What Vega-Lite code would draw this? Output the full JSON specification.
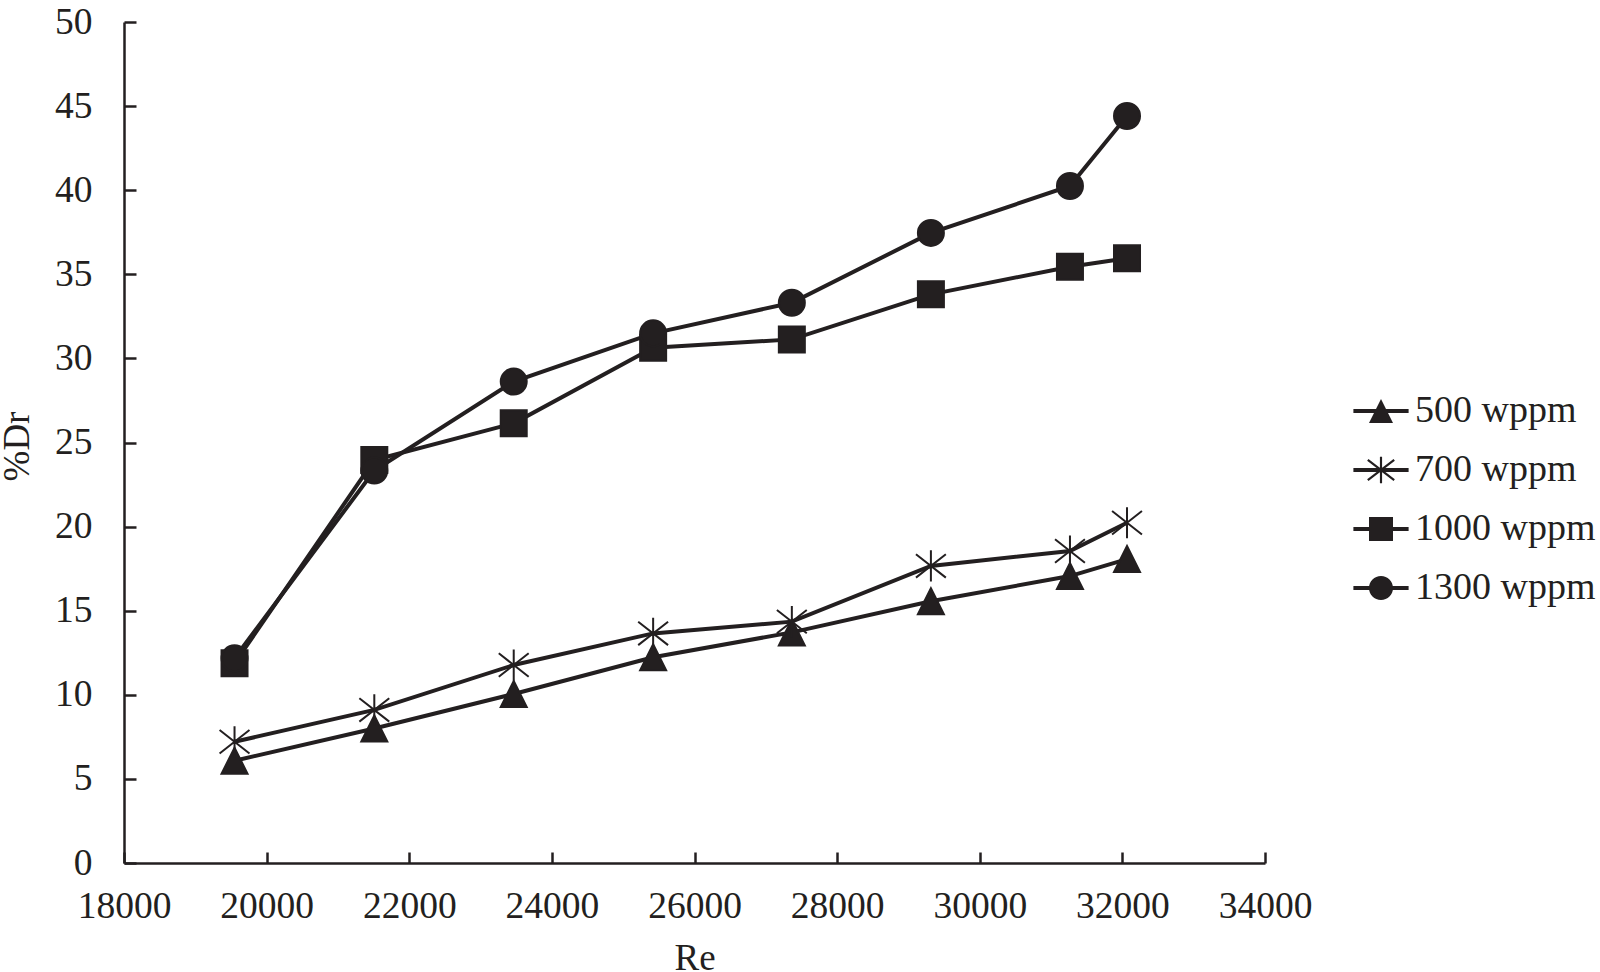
{
  "$schema": "https://vega.github.io/schema/vega-lite/v6.json",
  "autosize": {"type": "none"},
  "padding": {"left": 124, "top": 22, "right": 335, "bottom": 109},
  "width": 1141,
  "height": 841,
  "background": "white",
  "config": {
    "font": "Liberation Serif",
    "view": {"stroke": null},
    "axis": {
      "grid": false,
      "domainColor": "#231f20",
      "domainWidth": 2.5,
      "tickColor": "#231f20",
      "tickWidth": 2.5,
      "labelFont": "Liberation Serif",
      "labelFontSize": 37.5,
      "labelColor": "#231f20",
      "labelFlush": false,
      "labelOverlap": false,
      "titleFont": "Liberation Serif",
      "titleFontSize": 37,
      "titleFontWeight": "normal",
      "titleColor": "#231f20"
    }
  },
  "data": {
    "values": [
      {"Re": 19550, "Dr": 6.08, "series": "500 wppm"},
      {"Re": 21510, "Dr": 8.0, "series": "500 wppm"},
      {"Re": 23465, "Dr": 10.05, "series": "500 wppm"},
      {"Re": 25420, "Dr": 12.23, "series": "500 wppm"},
      {"Re": 27365, "Dr": 13.71, "series": "500 wppm"},
      {"Re": 29315, "Dr": 15.56, "series": "500 wppm"},
      {"Re": 31265, "Dr": 17.06, "series": "500 wppm"},
      {"Re": 32065, "Dr": 18.07, "series": "500 wppm"},
      {"Re": 19550, "Dr": 7.21, "series": "700 wppm"},
      {"Re": 21510, "Dr": 9.1, "series": "700 wppm"},
      {"Re": 23465, "Dr": 11.77, "series": "700 wppm"},
      {"Re": 25420, "Dr": 13.65, "series": "700 wppm"},
      {"Re": 27365, "Dr": 14.35, "series": "700 wppm"},
      {"Re": 29315, "Dr": 17.66, "series": "700 wppm"},
      {"Re": 31265, "Dr": 18.55, "series": "700 wppm"},
      {"Re": 32065, "Dr": 20.23, "series": "700 wppm"},
      {"Re": 19550, "Dr": 11.87, "series": "1000 wppm"},
      {"Re": 21510, "Dr": 23.96, "series": "1000 wppm"},
      {"Re": 23465, "Dr": 26.14, "series": "1000 wppm"},
      {"Re": 25420, "Dr": 30.64, "series": "1000 wppm"},
      {"Re": 27365, "Dr": 31.13, "series": "1000 wppm"},
      {"Re": 29315, "Dr": 33.81, "series": "1000 wppm"},
      {"Re": 31265, "Dr": 35.45, "series": "1000 wppm"},
      {"Re": 32065, "Dr": 35.95, "series": "1000 wppm"},
      {"Re": 19550, "Dr": 12.17, "series": "1300 wppm"},
      {"Re": 21510, "Dr": 23.33, "series": "1300 wppm"},
      {"Re": 23465, "Dr": 28.62, "series": "1300 wppm"},
      {"Re": 25420, "Dr": 31.49, "series": "1300 wppm"},
      {"Re": 27365, "Dr": 33.31, "series": "1300 wppm"},
      {"Re": 29315, "Dr": 37.46, "series": "1300 wppm"},
      {"Re": 31265, "Dr": 40.25, "series": "1300 wppm"},
      {"Re": 32065, "Dr": 44.41, "series": "1300 wppm"}
    ]
  },
  "encoding": {
    "x": {
      "field": "Re",
      "type": "quantitative",
      "scale": {"domain": [18000, 34000], "nice": false, "zero": false},
      "axis": {
        "title": "Re",
        "values": [18000, 20000, 22000, 24000, 26000, 28000, 30000, 32000, 34000],
        "format": "d",
        "tickSize": -11,
        "labelPadding": 35,
        "titleBaseline": "alphabetic",
        "titleY": 106
      }
    },
    "y": {
      "field": "Dr",
      "type": "quantitative",
      "scale": {"domain": [0, 50], "nice": false},
      "axis": {
        "title": "%Dr",
        "values": [0, 5, 10, 15, 20, 25, 30, 35, 40, 45, 50],
        "tickSize": -12,
        "labelPadding": 44,
        "titleBaseline": "alphabetic",
        "titleX": -96,
        "titleY": 424,
        "titleAlign": "center"
      }
    }
  },
  "layer": [
    {
      "mark": {"type": "line", "color": "#231f20", "strokeWidth": 4},
      "encoding": {"detail": {"field": "series", "type": "nominal"}}
    },
    {
      "mark": {"type": "point", "filled": true, "fill": "#231f20", "stroke": "#231f20", "strokeWidth": 2, "opacity": 1, "size": 676},
      "encoding": {
        "shape": {
          "field": "series",
          "type": "nominal",
          "scale": {
            "domain": ["500 wppm", "700 wppm", "1000 wppm", "1300 wppm"],
            "range": [
              "M0,-1L1,1L-1,1Z",
              "M0,-1.2L0,1.2M-1.15,-0.9L1.15,0.9M-1.15,0.9L1.15,-0.9",
              "M-1,-1L1,-1L1,1L-1,1Z",
              "M1,0A1,1,0,1,1,-1,0A1,1,0,1,1,1,0Z"
            ]
          },
          "legend": null
        }
      }
    },
    {
      "mark": {"type": "point", "filled": true, "color": "#231f20", "opacity": 0, "size": 576},
      "encoding": {
        "shape": {
          "field": "series",
          "type": "nominal",
          "scale": {
            "domain": ["500 wppm", "700 wppm", "1000 wppm", "1300 wppm"],
            "range": [
              "M-2.3,-0.17L2.3,-0.17L2.3,0.17L-2.3,0.17ZM0,-1L1,1L-1,1Z",
              "M-2.3,-0.17L2.3,-0.17L2.3,0.17L-2.3,0.17ZM-0.09,-1.1L0.09,-1.1L0.09,1.1L-0.09,1.1ZM-1.155,-0.779L-1.045,-0.921L1.155,0.779L1.045,0.921ZM-1.045,0.921L-1.155,0.779L1.045,-0.921L1.155,-0.779Z",
              "M-2.3,-0.17L2.3,-0.17L2.3,0.17L-2.3,0.17ZM-1,-1L1,-1L1,1L-1,1Z",
              "M-2.3,-0.17L2.3,-0.17L2.3,0.17L-2.3,0.17ZM1,0A1,1,0,1,1,-1,0A1,1,0,1,1,1,0Z"
            ]
          },
          "legend": {
            "title": null,
            "orient": "none",
            "legendX": 1238,
            "legendY": 370,
            "symbolSize": 576,
            "symbolStrokeWidth": 0,
            "symbolFillColor": "#231f20",
            "symbolOpacity": 1,
            "labelFont": "Liberation Serif",
            "labelFontSize": 38,
            "labelColor": "#231f20",
            "labelOffset": 15,
            "labelLimit": 400,
            "rowPadding": 21,
            "padding": 0
          }
        }
      }
    }
  ],
  "resolve": {"scale": {"shape": "independent"}, "legend": {"shape": "independent"}}
}
